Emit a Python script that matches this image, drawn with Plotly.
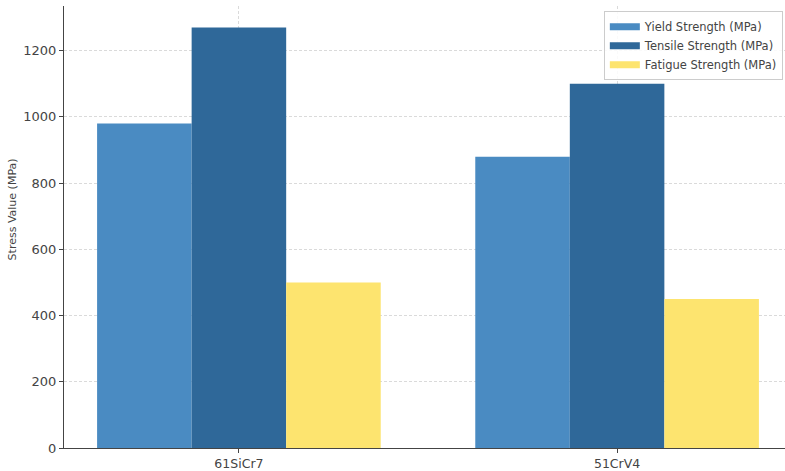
import plotly.graph_objects as go

# Mechanical properties of spring steels
materials = ["61SiCr7", "51CrV4"]
yield_strength = [980, 880]
tensile_strength = [1270, 1100]
fatigue_strength = [500, 450]

series = [
    ("Yield Strength (MPa)", yield_strength, "#4a8bc2"),
    ("Tensile Strength (MPa)", tensile_strength, "#2f6899"),
    ("Fatigue Strength (MPa)", fatigue_strength, "#fde46f"),
]

y_ticks = [0, 200, 400, 600, 800, 1000, 1200]

fig = go.Figure()
for name, values, color in series:
    fig.add_trace(go.Bar(
        x=materials, y=values, name=name, legendgroup=name, showlegend=False,
        marker=dict(color=color, line=dict(width=0)),
    ))
# Legend entries drawn as wide flat patches
for name, values, color in series:
    fig.add_trace(go.Scatter(
        x=[None], y=[None], mode="lines", name=name, legendgroup=name,
        line=dict(color=color, width=7),
    ))

font_family = "DejaVu Sans, sans-serif"
grid_color = "#dadada"
axis_color = "#444444"

fig.update_layout(
    width=785, height=471,
    margin=dict(l=64, r=0, t=6, b=21),
    paper_bgcolor="white", plot_bgcolor="white",
    barmode="group", bargap=0.25, bargroupgap=0,
    font=dict(family=font_family, color=axis_color),
    legend=dict(
        x=0.997, y=0.988, xanchor="right", yanchor="top",
        bgcolor="rgba(255,255,255,0.85)", bordercolor="#cccccc", borderwidth=1,
        font=dict(size=11.5, color=axis_color, family=font_family),
        tracegroupgap=0, itemwidth=30,
    ),
    xaxis=dict(
        range=[-0.4625, 1.444],
        showline=True, linecolor=axis_color, linewidth=1,
        ticks="outside", ticklen=4, tickcolor=axis_color,
        tickfont=dict(size=12.5, color=axis_color),
        showgrid=True, gridcolor=grid_color, griddash="3px,2px", gridwidth=0.8,
        layer="above traces", zeroline=False,
    ),
    yaxis=dict(
        range=[0, 1335],
        tickvals=y_ticks,
        showline=True, linecolor=axis_color, linewidth=1,
        ticks="outside", ticklen=4, tickcolor=axis_color,
        tickfont=dict(size=13, color=axis_color),
        showgrid=True, gridcolor=grid_color, griddash="3px,2px", gridwidth=0.8,
        layer="above traces", zeroline=False,
    ),
    annotations=[dict(
        text="Stress Value (MPa)", textangle=-90,
        xref="paper", yref="paper", x=-0.072, y=0.54,
        xanchor="center", yanchor="middle", showarrow=False,
        font=dict(size=11, color=axis_color, family=font_family),
    )],
)

fig.write_html("out.html")
